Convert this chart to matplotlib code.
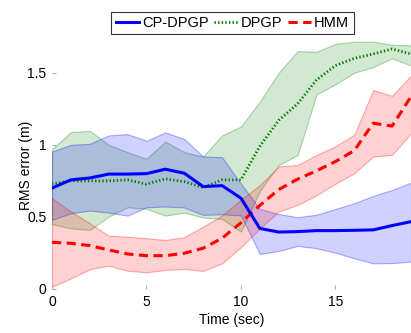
import matplotlib
matplotlib.use("Agg")
import matplotlib.pyplot as plt
import numpy as np

plt.rcParams['font.family'] = ['Liberation Sans', 'DejaVu Sans']

time = list(range(20))

cp_mean = [0.70, 0.757, 0.77, 0.797, 0.797, 0.80, 0.831, 0.803, 0.71, 0.717,
           0.63, 0.42, 0.395, 0.398, 0.405, 0.405, 0.407, 0.41, 0.44, 0.467]
cp_upper = [0.953, 1.0, 1.007, 1.065, 1.074, 1.028, 1.086, 1.04, 0.919, 0.914,
            0.73, 0.555, 0.52, 0.498, 0.515, 0.555, 0.595, 0.646, 0.687, 0.738]
cp_lower = [0.48, 0.525, 0.544, 0.53, 0.509, 0.567, 0.572, 0.565, 0.514, 0.518,
            0.51, 0.243, 0.264, 0.299, 0.283, 0.252, 0.213, 0.178, 0.18, 0.19]

dp_mean = [0.729, 0.75, 0.75, 0.75, 0.757, 0.727, 0.764, 0.745, 0.704, 0.757,
           0.757, 0.99, 1.17, 1.285, 1.45, 1.55, 1.60, 1.63, 1.665, 1.63]
dp_upper = [0.97, 1.088, 1.097, 1.0, 0.949, 0.903, 1.023, 0.949, 0.919, 1.065,
            1.127, 1.30, 1.50, 1.65, 1.645, 1.70, 1.715, 1.715, 1.694, 1.69]
dp_lower = [0.45, 0.42, 0.41, 0.502, 0.567, 0.556, 0.509, 0.53, 0.495, 0.486,
            0.398, 0.68, 0.86, 0.93, 1.35, 1.42, 1.50, 1.54, 1.60, 1.55]

hmm_mean = [0.324, 0.317, 0.301, 0.271, 0.243, 0.231, 0.231, 0.248, 0.283, 0.352,
            0.46, 0.58, 0.69, 0.762, 0.82, 0.884, 0.96, 1.15, 1.13, 1.335]
hmm_upper = [0.63, 0.537, 0.456, 0.37, 0.363, 0.352, 0.34, 0.359, 0.433, 0.51,
             0.62, 0.72, 0.85, 0.86, 0.93, 0.99, 1.07, 1.38, 1.34, 1.48]
hmm_lower = [0.016, 0.074, 0.137, 0.162, 0.127, 0.116, 0.132, 0.139, 0.125, 0.178,
             0.29, 0.42, 0.537, 0.583, 0.65, 0.73, 0.803, 0.919, 0.93, 1.08]

labels = ['CP-DPGP', 'DPGP', 'HMM']
xticks = [0, 5, 10, 15]
yticks = [0, 0.5, 1, 1.5]
ytick_labels = ['0', '0.5', '1', '1.5']

fig = plt.figure(figsize=(4.11, 3.33), dpi=100)
ax = fig.add_axes([52/411, 44/333, 1 - 52/411, 248/333])

blue = (0, 0, 1)
green = (0, 0.5, 0)
red = (1, 0, 0)

for lo, up, c in [(dp_lower, dp_upper, green), (cp_lower, cp_upper, blue), (hmm_lower, hmm_upper, red)]:
    ax.fill_between(time, lo, up, facecolor=c + (0.18,), edgecolor=c + (0.3,), linewidth=0.8)

l3, = ax.plot(time, hmm_mean, color=red, lw=2.2, linestyle=(0, (3, 1.8)), label=labels[2])
l2, = ax.plot(time, dp_mean, color=green, lw=2.0, linestyle=(0, (0.5, 0.8)), label=labels[1])
l1, = ax.plot(time, cp_mean, color=blue, lw=2.2, label=labels[0])

ax.set_xlim(0, 19)
ax.set_ylim(0, 1.72)
ax.set_xticks(xticks)
ax.set_xticklabels([str(x) for x in xticks])
ax.set_yticks(yticks)
ax.set_yticklabels(ytick_labels)
for s in ax.spines.values():
    s.set_visible(False)
ax.tick_params(direction='in', length=3, width=0.8, color='#b0b0b0', labelsize=10, pad=4)
ax.set_xlabel('Time (sec)', fontsize=10, labelpad=3)
ax.set_ylabel('RMS error (m)', fontsize=10)
ax.yaxis.set_label_coords(-0.053, 0.5)

leg = fig.legend(handles=[l1, l2, l3], labels=labels, loc='center',
                 bbox_to_anchor=(232.5/411, 1 - 23/333), ncol=3, fontsize=10.5,
                 frameon=True, fancybox=False, handlelength=1.6, handletextpad=0.2,
                 columnspacing=0.4, borderpad=0.3, borderaxespad=0)
leg.get_frame().set_edgecolor('black')
leg.get_frame().set_linewidth(0.8)

fig.savefig('out.png', dpi=100)
